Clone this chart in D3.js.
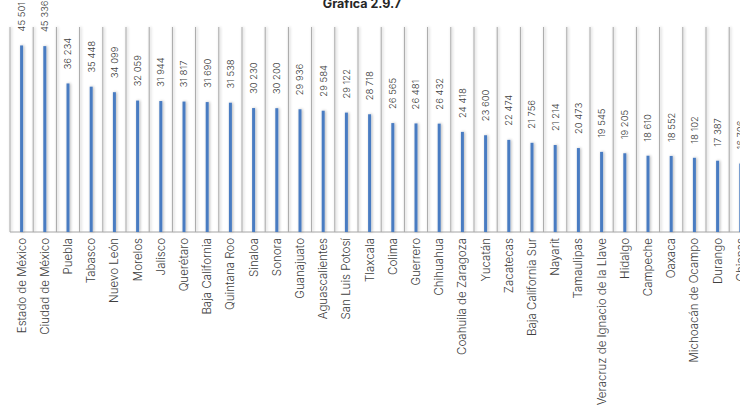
<!DOCTYPE html>
<html>
<head>
<meta charset="utf-8">
<script src="https://cdn.jsdelivr.net/npm/d3@7"></script>
<style>
  html, body { margin: 0; padding: 0; background: #fff; }
  svg { display: block; }
  text { font-family: Inter, "Noto Sans", sans-serif; fill: #404040; }
</style>
</head>
<body>
<svg id="chart" width="740" height="414"></svg>
<script>
const title = "Gráfica 2.9.7";
const categories = [
  "Estado de México", "Ciudad de México", "Puebla", "Tabasco", "Nuevo León",
  "Morelos", "Jalisco", "Querétaro", "Baja California", "Quintana Roo",
  "Sinaloa", "Sonora", "Guanajuato", "Aguascalientes", "San Luis Potosí",
  "Tlaxcala", "Colima", "Guerrero", "Chihuahua", "Coahuila de Zaragoza",
  "Yucatán", "Zacatecas", "Baja California Sur", "Nayarit", "Tamaulipas",
  "Veracruz de Ignacio de la Llave", "Hidalgo", "Campeche", "Oaxaca",
  "Michoacán de Ocampo", "Durango", "Chiapas"
];
const values = [
  45501, 45336, 36234, 35448, 34099,
  32059, 31944, 31817, 31690, 31538,
  30230, 30200, 29936, 29584, 29122,
  28718, 26565, 26481, 26432, 24418,
  23600, 22474, 21756, 21214, 20473,
  19545, 19205, 18610, 18552,
  18102, 17387, 16706
];
const yDomain = [0, 50000];

const svg = d3.select("#chart");
const plotLeft = 10, plotTop = 27, plotBottom = 232, step = 23.2;

const x = d3.scaleBand()
  .domain(categories)
  .range([plotLeft, plotLeft + step * categories.length])
  .padding(0);
const y = d3.scaleLinear().domain(yDomain).range([plotBottom, plotTop]);

const loc = d3.formatLocale({ decimal: ".", thousands: " ", grouping: [3], currency: ["$", ""] });
const fmt = loc.format(",d");

const defs = svg.append("defs");
const f = defs.append("filter").attr("id", "shadow")
  .attr("filterUnits", "userSpaceOnUse")
  .attr("x", 0).attr("y", 0).attr("width", 760).attr("height", 414);
f.append("feGaussianBlur").attr("in", "SourceAlpha").attr("stdDeviation", 1.6).attr("result", "b");
f.append("feOffset").attr("in", "b").attr("dx", 1).attr("dy", 0).attr("result", "o");
f.append("feComponentTransfer").attr("in", "o").attr("result", "s")
  .append("feFuncA").attr("type", "linear").attr("slope", 0.3);
const m = f.append("feMerge");
m.append("feMergeNode").attr("in", "s");
m.append("feMergeNode").attr("in", "SourceGraphic");

// title
svg.append("text")
  .attr("x", 362).attr("y", 7.5)
  .attr("text-anchor", "middle")
  .style("font-size", "12.5px").style("font-weight", "700")
  .style("fill", "#262626")
  .text(title);

// vertical category separators
const bounds = categories.map(c => x(c)).concat([x.range()[1]]);
svg.append("g").attr("filter", "url(#shadow)").selectAll("line")
  .data(bounds).join("line")
  .attr("x1", d => d).attr("x2", d => d)
  .attr("y1", plotTop).attr("y2", plotBottom)
  .attr("stroke", "#a6a6a6").attr("stroke-width", 1);

// baseline
svg.append("line")
  .attr("x1", plotLeft).attr("x2", x.range()[1])
  .attr("y1", plotBottom).attr("y2", plotBottom)
  .attr("stroke", "#a6a6a6").attr("stroke-width", 1.2);

// bars
const bw = 3;
svg.append("g").attr("filter", "url(#shadow)").selectAll("rect")
  .data(values).join("rect")
  .attr("x", (d, i) => x(categories[i]) + x.bandwidth() / 2 - bw / 2)
  .attr("y", d => y(d))
  .attr("width", bw)
  .attr("height", d => plotBottom - y(d))
  .attr("fill", "#4a7cc2");

// value labels
svg.append("g").selectAll("text")
  .data(values).join("text")
  .attr("transform", (d, i) => `translate(${x(categories[i]) + x.bandwidth() / 2},${y(d) - 14}) rotate(-90)`)
  .attr("text-anchor", "start")
  .attr("dy", "0.35em")
  .style("font-size", "9.5px")
  .style("font-weight", "300")
  .text(d => fmt(d));

// category labels
svg.append("g").selectAll("text")
  .data(categories).join("text")
  .attr("transform", d => `translate(${x(d) + x.bandwidth() / 2},238) rotate(-90)`)
  .attr("text-anchor", "end")
  .attr("dy", "0.35em")
  .style("font-size", "11.5px")
  .style("font-weight", "300")
  .text(d => d);
</script>
</body>
</html>
